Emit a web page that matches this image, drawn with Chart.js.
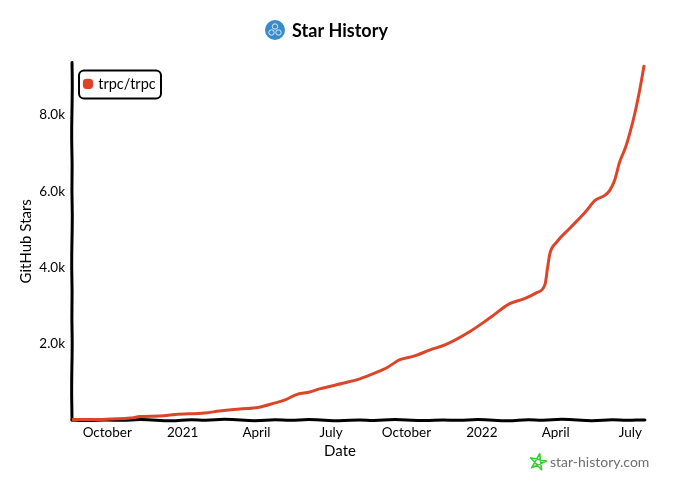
<!DOCTYPE html>
<html>
<head>
<meta charset="utf-8">
<style>html,body{margin:0;padding:0;background:#fff}#wrap{width:680px;height:484px}</style>
<script src="https://cdn.jsdelivr.net/npm/chart.js@4"></script>
</head>
<body>
<div id="wrap"><canvas id="c" width="680" height="484"></canvas></div>
<script>
const seriesName = "trpc/trpc";
// days since 2020-08-19
const days = [0,34,71,83,107,126,162,180,205,227,248,260,273,290,302,333,351,370,384,400,418,437,455,485,510,534,552,567,577,580,583,591,607,626,638,650,656,662,668,675,680,687,693,698];
const stars = [10,15,50,90,105,145,185,235,290,330,450,525,660,735,815,975,1080,1235,1370,1580,1680,1840,1970,2315,2680,3050,3180,3340,3550,3970,4365,4655,5020,5445,5760,5890,6020,6285,6760,7130,7480,8075,8705,9310];
const xTickDays = [43,135,225,316,408,500,590,681];
const xTickLabels = ["October","2021","April","July","October","2022","April","July"];
const yTickValues = [2000,4000,6000,8000];
const yTickLabels = ["2.0k","4.0k","6.0k","8.0k"];
const wobble = [0,.8,-.4,.7,-.9,.3,1,-.6,.5,-1,.2,.9,-.5,.6,-.8,.4,1,-.3,.7,-.7];
const FONT = "Lato";
const INK = "#000";
const RED = "#dd4528";

function wobblyLine(ctx, x0, y0, x1, y1, n, seed, amp){
  ctx.beginPath();
  const dx = x1-x0, dy = y1-y0, len = Math.hypot(dx,dy), nx = -dy/len, ny = dx/len;
  let px = x0, py = y0; ctx.moveTo(px,py);
  for(let i=1;i<=n;i++){
    const t=i/n, w=wobble[(i+seed)%wobble.length]*amp;
    const x=x0+dx*t+nx*w, y=y0+dy*t+ny*w;
    ctx.quadraticCurveTo(px,py,(px+x)/2,(py+y)/2);
    px=x;py=y;
  }
  ctx.lineTo(x1,y1);
  ctx.stroke();
}
const sketchAxes = {
  id:"sketchAxes",
  afterLayout(chart){
    // keep the title centred on the page and put the legend inside the plot
    const t=chart.titleBlock; t.left=0; t.right=chart.width;
    const l=chart.legend, w=l.width;
    l.left=chart.chartArea.left+5; l.right=l.left+w;
    l.top=chart.chartArea.top+6; l.bottom=l.top+l.height;
    // the x axis title is centred on the page, not on the plot
    const sx=chart.scales.x;
    if(!sx._pageTitle){
      sx._pageTitle=true;
      const orig=sx.drawTitle;
      sx.drawTitle=function(){
        const a=this.left,b=this.right;
        const shift=(a+b)/2-chart.width/2;
        this.left=a-shift;this.right=b-shift;
        orig.call(this);
        this.left=a;this.right=b;
      };
    }
  },
  beforeDatasetsDraw(chart){
    const {ctx,chartArea:a}=chart;
    ctx.save();
    ctx.strokeStyle=INK;ctx.lineWidth=3;ctx.lineCap="round";
    wobblyLine(ctx,a.left,a.top,a.left,a.bottom,14,3,.45);
    wobblyLine(ctx,a.left,a.bottom,a.right,a.bottom,34,0,1);
    ctx.restore();
  }
};
const decorations = {
  id:"decorations",
  afterDraw(chart){
    const {ctx,chartArea:a}=chart;
    ctx.save();
    // legend frame
    const x0=a.left+7,y0=a.top+8,x1=a.left+89,y1=a.top+36;
    ctx.strokeStyle=INK;ctx.lineWidth=2;ctx.lineJoin="round";
    ctx.beginPath();ctx.roundRect(x0,y0,x1-x0,y1-y0,5);ctx.stroke();
    // header logo
    const lx=275,ly=30;
    ctx.fillStyle="#3b8bc9";ctx.beginPath();ctx.arc(lx,ly,10,0,Math.PI*2);ctx.fill();
    ctx.strokeStyle="#d8ecf8";ctx.lineWidth=1;
    [[0,-3.5],[-3.5,2.5],[3.5,2.5]].forEach(p=>{ctx.beginPath();ctx.arc(lx+p[0],ly+p[1],2.7,0,Math.PI*2);ctx.stroke();});
    // watermark star
    const sx=538,sy=462,R=8.5;
    ctx.strokeStyle="#35d02e";ctx.lineWidth=1.6;ctx.lineJoin="round";
    ctx.beginPath();
    for(let i=0;i<=5;i++){
      const ang=-Math.PI/2+i*2*2*Math.PI/5+0.2;
      const x=sx+R*Math.cos(ang),y=sy+R*Math.sin(ang);
      i?ctx.lineTo(x,y):ctx.moveTo(x,y);
    }
    ctx.closePath();ctx.stroke();
    ctx.fillStyle="#6f6f6f";ctx.font="14px "+FONT;ctx.textAlign="left";ctx.textBaseline="middle";
    ctx.fillText("star-history.com",550,462);
    ctx.restore();
  }
};
new Chart(document.getElementById("c"),{
  type:"line",
  data:{labels:days,datasets:[{
    label:seriesName,
    data:days.map((d,i)=>({x:d,y:stars[i]})),
    borderColor:RED,backgroundColor:RED,borderWidth:3,pointRadius:0,
    cubicInterpolationMode:"monotone",clip:false
  }]},
  options:{
    responsive:false,animation:false,
    layout:{padding:{left:0,right:35,top:0,bottom:20}},
    plugins:{
      title:{display:true,text:"Star History",color:INK,font:{family:FONT,size:18,weight:"bold"},padding:{top:20,bottom:21}},
      legend:{display:true,position:"chartArea",align:"start",
        labels:{color:INK,font:{family:FONT,size:14.5},usePointStyle:true,pointStyle:"rectRounded",boxHeight:6,boxWidth:6,padding:8}},
      tooltip:{enabled:false}
    },
    scales:{
      x:{type:"linear",min:0,max:699,grid:{display:false,drawTicks:false},border:{display:false},
        afterBuildTicks(s){s.ticks=xTickDays.map(v=>({value:v}));},
        afterFit(s){s.height=44;},
        ticks:{autoSkip:false,maxRotation:0,color:INK,padding:5,font:{family:FONT,size:13.5},
          callback(v){return xTickLabels[xTickDays.indexOf(v)];}},
        title:{display:true,text:"Date",color:INK,font:{family:FONT,size:15},padding:{top:0}}
      },
      y:{type:"linear",min:0,max:9370,grid:{display:false,drawTicks:false},border:{display:false},
        afterBuildTicks(s){s.ticks=yTickValues.map(v=>({value:v}));},
        afterFit(s){s.width=72;},
        ticks:{color:INK,padding:7,font:{family:FONT,size:13.5},
          callback(v){return yTickLabels[yTickValues.indexOf(v)];}},
        title:{display:true,text:"GitHub Stars",color:INK,font:{family:FONT,size:15},padding:{top:17}}
      }
    }
  },
  plugins:[sketchAxes,decorations]
});
</script>
</body>
</html>
